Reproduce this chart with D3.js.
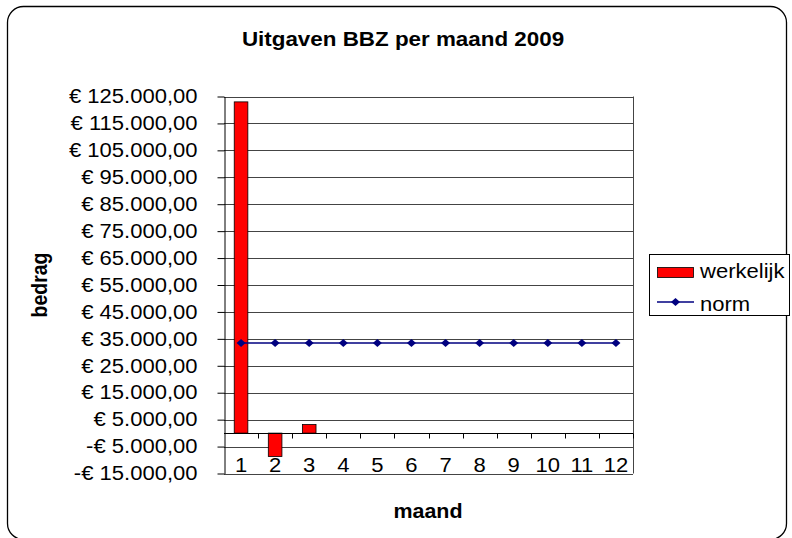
<!DOCTYPE html>
<meta charset="utf-8">
<script src="https://d3js.org/d3.v7.min.js"></script>
<style>
  body { margin: 0; background: #fff; }
  text { font-family: Arial, "Liberation Sans", sans-serif; fill: #000; }
</style>
<div id="my_dataviz"></div>
<script>

// data
var months = ["1", "2", "3", "4", "5", "6", "7", "8", "9", "10", "11", "12"];
var werkelijk = [123000, -8700, 3200, null, null, null, null, null, null, null, null, null];
var norm = [33500, 33500, 33500, 33500, 33500, 33500, 33500, 33500, 33500, 33500, 33500, 33500];
var yTicks = [-15000, -5000, 5000, 15000, 25000, 35000, 45000, 55000, 65000, 75000, 85000, 95000, 105000, 115000, 125000];
var seriesNames = ["werkelijk", "norm"];

var W = 792, H = 538;
var plot = {left: 224, right: 633, top: 96.5, bottom: 473.5};
var stretch = 1.13; // text in the picture is a bit wide

var svg = d3.select("#my_dataviz")
  .append("svg")
    .attr("width", W)
    .attr("height", H);

// outer rounded frame
svg.append("rect")
  .attr("x", 7.5).attr("y", 6.5)
  .attr("width", 779).attr("height", 533)
  .attr("rx", 16).attr("ry", 16)
  .style("fill", "#fff")
  .style("stroke", "#000")
  .style("stroke-width", 1.3);

var x = d3.scaleBand()
  .domain(months)
  .range([plot.left, plot.right])
  .padding(0);

var y = d3.scaleLinear()
  .domain([-15000, 125000])
  .range([plot.bottom, plot.top]);

var euro = d3.formatLocale({
  decimal: ",", thousands: ".", grouping: [3], currency: ["€ ", ""], minus: "-"
}).format("$,.2f");

// gridlines
svg.append("g")
  .selectAll("line")
  .data(yTicks)
  .enter()
  .append("line")
    .attr("x1", plot.left).attr("x2", plot.right)
    .attr("y1", function(d) { return Math.round(y(d)) + 0.5; })
    .attr("y2", function(d) { return Math.round(y(d)) + 0.5; })
    .style("stroke", "#444")
    .style("stroke-width", 1);

// plot area border (right side)
svg.append("line")
  .attr("x1", plot.right + 0.5).attr("x2", plot.right + 0.5)
  .attr("y1", plot.top).attr("y2", plot.bottom)
  .style("stroke", "#444");

// y axis
var yAxis = svg.append("g")
  .attr("transform", "translate(" + (plot.left + 0.5) + ",0)")
  .call(d3.axisLeft(y).tickValues(yTicks).tickSize(7).tickSizeOuter(0).tickFormat(euro));
yAxis.select(".domain").style("stroke", "#000");
yAxis.selectAll(".tick line").style("stroke", "#000");
yAxis.selectAll(".tick text")
  .attr("x", -27 / stretch)
  .attr("transform", "scale(" + stretch + ",1)")
  .style("font-size", "19.5px")
  .style("font-family", "Arial, 'Liberation Sans', sans-serif")
  .style("fill", "#000");

// bars
var barW = x.bandwidth() * 0.4;
svg.append("g")
  .selectAll("rect")
  .data(months.map(function(m, i) { return {m: m, v: werkelijk[i]}; })
    .filter(function(d) { return d.v !== null; }))
  .enter()
  .append("rect")
    .attr("x", function(d) { return x(d.m) + (x.bandwidth() - barW) / 2; })
    .attr("y", function(d) { return y(Math.max(0, d.v)); })
    .attr("width", barW)
    .attr("height", function(d) { return Math.abs(y(d.v) - y(0)); })
    .style("fill", "#ff0000")
    .style("stroke", "#000")
    .style("stroke-width", 0.8);

// x axis at zero
var y0 = Math.round(y(0)) + 0.5;
svg.append("line")
  .attr("x1", plot.left).attr("x2", plot.right)
  .attr("y1", y0).attr("y2", y0)
  .style("stroke", "#000");
svg.append("g")
  .selectAll("line")
  .data(months)
  .enter()
  .append("line")
    .attr("x1", function(d) { return Math.round(x(d) + x.step()) + 0.5; })
    .attr("x2", function(d) { return Math.round(x(d) + x.step()) + 0.5; })
    .attr("y1", y0).attr("y2", y0 + 5)
    .style("stroke", "#000");

// month labels
svg.append("g")
  .selectAll("text")
  .data(months)
  .enter()
  .append("text")
    .attr("transform", function(d) {
      return "translate(" + (x(d) + x.bandwidth() / 2) + ",472) scale(" + stretch + ",1)";
    })
    .style("text-anchor", "middle")
    .style("font-size", "19.5px")
    .text(function(d) { return d; });

// norm line
var normLine = d3.line()
  .x(function(d, i) { return x(months[i]) + x.bandwidth() / 2; })
  .y(function(d) { return y(d); });
svg.append("path")
  .datum(norm)
  .attr("d", normLine)
  .style("fill", "none")
  .style("stroke", "#000080")
  .style("stroke-width", 1.5);

var diamond = "M0,-4L4.5,0L0,4L-4.5,0Z";
svg.append("g")
  .selectAll("path")
  .data(norm)
  .enter()
  .append("path")
    .attr("d", diamond)
    .attr("transform", function(d, i) {
      return "translate(" + (x(months[i]) + x.bandwidth() / 2) + "," + y(d) + ")";
    })
    .style("fill", "#000080");

// title
svg.append("text")
  .attr("transform", "translate(403,46) scale(1.12,1)")
  .style("text-anchor", "middle")
  .style("font-size", "20px")
  .style("font-weight", "bold")
  .text("Uitgaven BBZ per maand 2009");

// axis titles
svg.append("text")
  .attr("transform", "translate(47,285) rotate(-90) scale(1,1.12)")
  .style("text-anchor", "middle")
  .style("font-size", "19.5px")
  .style("font-weight", "bold")
  .text("bedrag");

svg.append("text")
  .attr("transform", "translate(428,518) scale(1.1,1)")
  .style("text-anchor", "middle")
  .style("font-size", "19.5px")
  .style("font-weight", "bold")
  .text("maand");

// legend
var legend = svg.append("g");
legend.append("rect")
  .attr("x", 649.5).attr("y", 254.5)
  .attr("width", 140).attr("height", 61)
  .style("fill", "#fff")
  .style("stroke", "#000");

legend.append("rect")
  .attr("x", 657.5).attr("y", 267.5)
  .attr("width", 36).attr("height", 10)
  .style("fill", "#ff0000")
  .style("stroke", "#000")
  .style("stroke-width", 0.8);

legend.append("line")
  .attr("x1", 657).attr("x2", 694)
  .attr("y1", 302).attr("y2", 302)
  .style("stroke", "#000080")
  .style("stroke-width", 1.5);
legend.append("path")
  .attr("d", diamond)
  .attr("transform", "translate(675.5,302)")
  .style("fill", "#000080");

legend.selectAll(".lbl")
  .data(seriesNames)
  .enter()
  .append("text")
    .attr("class", "lbl")
    .attr("transform", function(d, i) {
      return "translate(700," + (278 + i * 32.5) + ") scale(" + stretch + ",1)";
    })
    .style("font-size", "19.5px")
    .text(function(d) { return d; });

</script>
